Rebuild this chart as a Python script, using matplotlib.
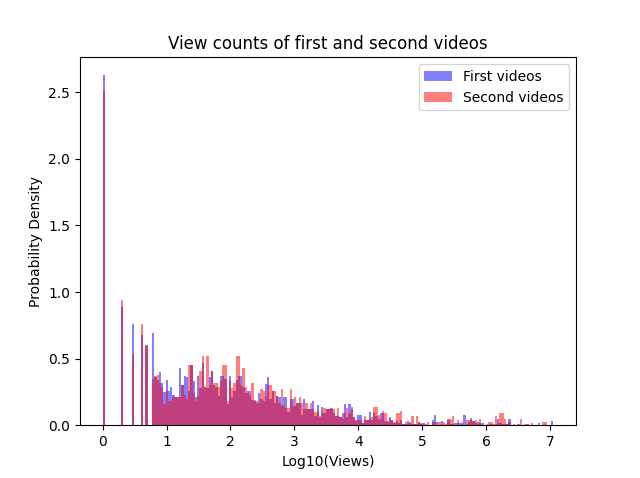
import matplotlib
matplotlib.use('Agg')
import matplotlib.pyplot as plt
import numpy as np

# Histogram: 200 bins over log10(views) from 0 to 7.05, density heights
x_min, x_max, n_bins = 0.0, 7.05, 200

first_videos = [
    2.63, 0, 0, 0, 0, 0, 0, 0, 0.886, 0,
    0, 0, 0, 0.758, 0, 0, 0, 0.676, 0, 0.603,
    0, 0, 0.69, 0.36, 0.34, 0.40, 0.32, 0.25, 0.34, 0.26,
    0.29, 0.23, 0.21, 0.21, 0.43, 0.30, 0.37, 0.36, 0.26, 0.45,
    0.33, 0.21, 0.37, 0.28, 0.47, 0.29, 0.28, 0.36, 0.41, 0.30,
    0.29, 0.22, 0.37, 0.37, 0.35, 0.16, 0.37, 0.21, 0.26, 0.34,
    0.37, 0.37, 0.29, 0.24, 0.26, 0.26, 0.19, 0.18, 0.17, 0.245,
    0.20, 0.18, 0.31, 0.36, 0.20, 0.26, 0.17, 0.22, 0.21, 0.15,
    0.21, 0.21, 0.10, 0.195, 0.195, 0.145, 0.17, 0.17, 0.08, 0.195,
    0.12, 0.12, 0.125, 0.18, 0.07, 0.15, 0.06, 0.14, 0.09, 0.12,
    0.12, 0.13, 0.09, 0.07, 0.07, 0.06, 0.09, 0.16, 0.06, 0.16,
    0.12, 0.06, 0.03, 0.075, 0.075, 0.02, 0.04, 0.04, 0.10, 0.04,
    0.09, 0.07, 0.05, 0.09, 0.09, 0.03, 0.025, 0.06, 0.04, 0.02,
    0.03, 0.02, 0.04, 0.01, 0.01, 0.03, 0.02, 0.01, 0.01, 0.01,
    0.025, 0.01, 0.02, 0, 0, 0, 0.04, 0.075, 0.025, 0,
    0.03, 0, 0, 0.04, 0.01, 0.01, 0.018, 0.018, 0.018, 0.01,
    0.075, 0.01, 0.025, 0.058, 0.03, 0.02, 0.025, 0.018, 0.018, 0,
    0, 0, 0.0125, 0, 0.01, 0.045, 0.02, 0.01, 0.01, 0.0125,
    0.045, 0, 0, 0, 0.0125, 0, 0, 0, 0.0125, 0,
    0, 0, 0, 0.015, 0, 0, 0, 0, 0, 0.03,
]

second_videos = [
    2.51, 0, 0, 0, 0, 0, 0, 0, 0.938, 0,
    0, 0, 0, 0.528, 0, 0, 0, 0.758, 0, 0.593,
    0, 0, 0.35, 0.37, 0.38, 0.32, 0.29, 0.16, 0.26, 0.18,
    0.18, 0.21, 0.21, 0.21, 0.21, 0.30, 0.23, 0.20, 0.45, 0.45,
    0.24, 0.18, 0.22, 0.41, 0.52, 0.29, 0.52, 0.30, 0.41, 0.32,
    0.32, 0.29, 0.33, 0.45, 0.45, 0.18, 0.33, 0.28, 0.32, 0.52,
    0.52, 0.30, 0.43, 0.29, 0.24, 0.23, 0.32, 0.19, 0.18, 0.17,
    0.275, 0.255, 0.22, 0.30, 0.30, 0.26, 0.26, 0.22, 0.17, 0.275,
    0.145, 0.13, 0.13, 0.275, 0.145, 0.21, 0.17, 0.21, 0.17, 0.12,
    0.17, 0.12, 0.17, 0.12, 0.10, 0.11, 0.07, 0.09, 0.13, 0.12,
    0.12, 0.12, 0.12, 0.07, 0.13, 0.06, 0.05, 0.09, 0.13, 0.09,
    0.14, 0.06, 0.04, 0.04, 0.04, 0.02, 0.07, 0.04, 0.05, 0.06,
    0.14, 0.14, 0.08, 0.05, 0.11, 0.09, 0.03, 0.05, 0.04, 0.025,
    0.09, 0.09, 0.11, 0.01, 0.025, 0.01, 0.025, 0.07, 0.01, 0.07,
    0.025, 0.02, 0, 0.0125, 0.025, 0, 0.025, 0.025, 0, 0.025,
    0.01, 0.025, 0.01, 0.045, 0.045, 0.068, 0, 0.04, 0, 0.025,
    0, 0.04, 0.04, 0.04, 0.03, 0.04, 0.01, 0.045, 0, 0,
    0.01, 0.025, 0.025, 0.0125, 0.068, 0.02, 0.09, 0.09, 0.045, 0.01,
    0.025, 0, 0.0125, 0, 0, 0.045, 0, 0.0125, 0, 0,
    0.02, 0, 0, 0, 0, 0.022, 0.022, 0, 0, 0,
]

edges = np.linspace(x_min, x_max, n_bins + 1)
centers = (edges[:-1] + edges[1:]) / 2

fig, ax = plt.subplots(figsize=(6.4, 4.78), dpi=100)
ax.hist(centers, bins=edges, weights=first_videos, color='blue', alpha=0.5, label='First videos')
ax.hist(centers, bins=edges, weights=second_videos, color='red', alpha=0.5, label='Second videos')

ax.set_title('View counts of first and second videos')
ax.set_xlabel('Log10(Views)')
ax.set_ylabel('Probability Density')
ax.legend(loc='upper right')

fig.savefig('out.png', dpi=100)
